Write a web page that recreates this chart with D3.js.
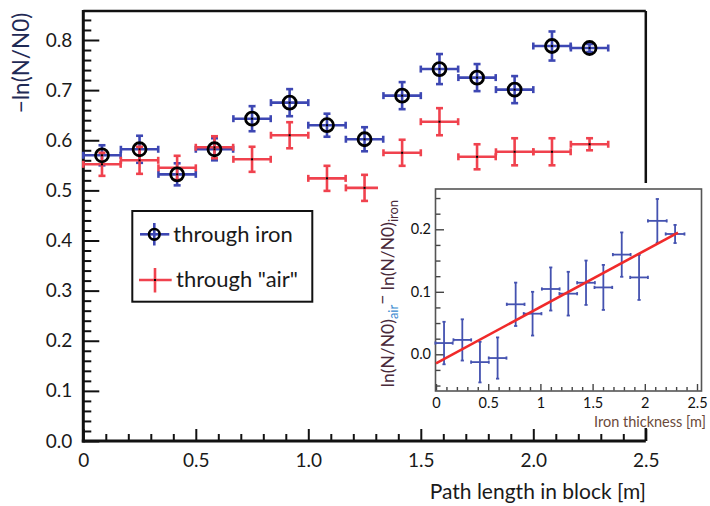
<!DOCTYPE html>
<html><head><meta charset="utf-8">
<script src="https://cdn.jsdelivr.net/npm/d3@7"></script>
<style>body{margin:0;background:#fff}svg{display:block}</style>
</head><body><svg id="c" width="710" height="506"></svg>
<script>
// ---------- data ----------
const pathLength   = [0.083,0.25,0.417,0.583,0.75,0.917,1.083,1.25,1.417,1.583,1.75,1.917,2.083,2.25];
const pathHalfBin  = [0.083,0.083,0.083,0.083,0.083,0.083,0.083,0.083,0.083,0.083,0.083,0.083,0.083,0.083];
const ironValues   = [0.570,0.582,0.532,0.582,0.643,0.675,0.630,0.602,0.689,0.742,0.725,0.701,0.788,0.784];
const ironErrors   = [0.020,0.027,0.022,0.022,0.025,0.027,0.023,0.024,0.027,0.030,0.027,0.027,0.029,0.008];
const airValues    = [0.552,0.560,0.545,0.586,0.562,0.610,0.524,0.505,0.575,0.637,0.567,0.577,0.577,0.592];
const airErrors    = [0.023,0.027,0.024,0.022,0.025,0.026,0.025,0.026,0.026,0.027,0.025,0.027,0.027,0.012];

const ironThickness    = [0.077,0.252,0.421,0.590,0.763,0.925,1.099,1.267,1.437,1.603,1.779,1.945,2.120,2.290];
const ironThicknessErr = [0.083,0.085,0.085,0.085,0.085,0.085,0.085,0.085,0.085,0.085,0.085,0.085,0.090,0.090];
const lnDiff           = [0.018,0.023,-0.0125,-0.006,0.080,0.065,0.1045,0.097,0.1145,0.107,0.1595,0.123,0.2135,0.1925];
const lnDiffErr        = [0.034,0.033,0.0325,0.033,0.0347,0.035,0.0345,0.035,0.0355,0.036,0.0355,0.036,0.035,0.0145];
const fitX = [0, 2.318];
const fitY = [-0.0144, 0.1946];

const xTickValues = [0,0.5,1,1.5,2,2.5];
const xTickLabels = ["0","0.5","1.0","1.5","2.0","2.5"];
const yTickValues = [0,0.1,0.2,0.3,0.4,0.5,0.6,0.7,0.8];
const yTickLabels = ["0.0","0.1","0.2","0.3","0.4","0.5","0.6","0.7","0.8"];
const insetXTickValues = [0,0.5,1,1.5,2,2.5];
const insetXTickLabels = ["0","0.5","1","1.5","2","2.5"];
const insetYTickValues = [0,0.1,0.2];
const insetYTickLabels = ["0.0","0.1","0.2"];
const legendLabels = ["through iron", "through \"air\""];

// ---------- setup ----------
const FONT = "Lato, 'Open Sans', sans-serif";
const BLUE = "#3d47b3", RED = "#f0424e", INSET_BLUE = "#4452b0";
const svg = d3.select("#c");
svg.append("rect").attr("width",710).attr("height",506).attr("fill","#fff");

const x = d3.scaleLinear([0,2.5],[83.3,645.8]);
const y = d3.scaleLinear([0,0.8],[441,40]);
const yTop = 11;

// frame (top & right)
svg.append("line").attr("x1",x(0)).attr("x2",x(2.5)).attr("y1",yTop).attr("y2",yTop)
  .attr("stroke","#111").attr("stroke-width",2.5);
svg.append("line").attr("x1",x(2.5)).attr("x2",x(2.5)).attr("y1",yTop).attr("y2",y(0))
  .attr("stroke","#111").attr("stroke-width",2.5);

// y axis
const yMinor = d3.range(0,0.8501,0.02).filter(v=>Math.abs(v*10-Math.round(v*10))>1e-6);
const gyMin = svg.append("g").attr("transform",`translate(${x(0)},0)`)
  .call(d3.axisLeft(y).tickValues(yMinor).tickSize(-8).tickFormat(""));
const gy = svg.append("g").attr("transform",`translate(${x(0)},0)`)
  .call(d3.axisLeft(y).tickValues(yTickValues).tickSize(-16).tickPadding(11)
        .tickFormat((d,i)=>yTickLabels[i]));
// x axis
const xMinor = d3.range(0,2.5001,0.1).filter(v=>Math.abs(v*2-Math.round(v*2))>1e-6);
const gxMin = svg.append("g").attr("transform",`translate(0,${y(0)})`)
  .call(d3.axisBottom(x).tickValues(xMinor).tickSize(-7).tickFormat(""));
const gx = svg.append("g").attr("transform",`translate(0,${y(0)})`)
  .call(d3.axisBottom(x).tickValues(xTickValues).tickSize(-12).tickPadding(13)
        .tickFormat((d,i)=>xTickLabels[i]));
[gyMin,gy,gxMin,gx].forEach(g=>{
  g.select(".domain").remove();
  g.selectAll("line").attr("stroke","#111").attr("stroke-width",2);
  g.selectAll("text").attr("font-family",FONT).attr("font-size",19).attr("fill","#1a1a1a");
});
svg.append("line").attr("x1",x(0)).attr("x2",x(0)).attr("y1",yTop-1).attr("y2",y(0)+1.5)
  .attr("stroke","#111").attr("stroke-width",3);
svg.append("line").attr("x1",x(0)-1.5).attr("x2",x(2.5)).attr("y1",y(0)).attr("y2",y(0))
  .attr("stroke","#111").attr("stroke-width",3);

// axis titles
svg.append("text").attr("transform","translate(29,63) rotate(-90)")
  .attr("text-anchor","middle").attr("font-family",FONT).attr("font-size",22.5)
  .attr("fill","#1f2a55").text("\u2212ln(N/N0)");
svg.append("text").attr("x",646).attr("y",499).attr("text-anchor","end")
  .attr("font-family",FONT).attr("font-size",21).attr("fill","#1a1a1a")
  .text("Path length in block [m]");

// error bars helper
function errBars(g, xs, ys, xe, ye, sx, sy, color, sw, cap){
  const data = xs.map((v,i)=>({x:v,y:ys[i],xe:xe[i],ye:ye[i]}));
  const grp = g.append("g").attr("stroke",color).attr("stroke-width",sw).attr("fill","none");
  data.forEach(d=>{
    const cx=sx(d.x), cy=sy(d.y), x0=sx(d.x-d.xe), x1=sx(d.x+d.xe), y0=sy(d.y-d.ye), y1=sy(d.y+d.ye);
    grp.append("line").attr("x1",x0).attr("x2",x1).attr("y1",cy).attr("y2",cy);
    grp.append("line").attr("x1",cx).attr("x2",cx).attr("y1",y0).attr("y2",y1);
    if(cap>0){
      grp.append("line").attr("x1",x0).attr("x2",x0).attr("y1",cy-cap).attr("y2",cy+cap);
      grp.append("line").attr("x1",x1).attr("x2",x1).attr("y1",cy-cap).attr("y2",cy+cap);
      grp.append("line").attr("x1",cx-cap).attr("x2",cx+cap).attr("y1",y0).attr("y2",y0);
      grp.append("line").attr("x1",cx-cap).attr("x2",cx+cap).attr("y1",y1).attr("y2",y1);
    }
  });
  return data;
}

const plot = svg.append("g");
const ironData = errBars(plot, pathLength, ironValues, pathHalfBin, ironErrors, x, y, BLUE, 2.6, 3.5);
const airData  = errBars(plot, pathLength, airValues, pathHalfBin, airErrors, x, y, RED, 2.6, 3.5);
plot.selectAll("rect.dot").data(ironData.concat(airData)).join("rect").attr("class","dot")
  .attr("x",d=>x(d.x)-1).attr("y",d=>y(d.y)-1).attr("width",2).attr("height",2).attr("fill","#000");
plot.selectAll("circle.iron").data(ironData).join("circle").attr("class","iron")
  .attr("cx",d=>x(d.x)).attr("cy",d=>y(d.y)).attr("r",6.5)
  .attr("fill","none").attr("stroke","#000").attr("stroke-width",2.8);

// legend
const lg = svg.append("g");
lg.append("rect").attr("x",132.3).attr("y",211).attr("width",180).attr("height",90.7)
  .attr("fill","#fff").attr("stroke","#111").attr("stroke-width",2);
lg.append("line").attr("x1",140).attr("x2",169.3).attr("y1",234.3).attr("y2",234.3).attr("stroke",BLUE).attr("stroke-width",2.6);
lg.append("line").attr("x1",154.3).attr("x2",154.3).attr("y1",223).attr("y2",245.5).attr("stroke",BLUE).attr("stroke-width",2.6);
lg.append("circle").attr("cx",154.3).attr("cy",234.3).attr("r",5.3).attr("fill","none").attr("stroke","#000").attr("stroke-width",2.6);
lg.append("line").attr("x1",139).attr("x2",171.7).attr("y1",280).attr("y2",280).attr("stroke",RED).attr("stroke-width",2.6);
lg.append("line").attr("x1",155).attr("x2",155).attr("y1",268).attr("y2",292.5).attr("stroke",RED).attr("stroke-width",2.6);
lg.append("rect").attr("x",154).attr("y",279).attr("width",2).attr("height",2).attr("fill","#000");
lg.append("text").attr("x",173.3).attr("y",241.7).attr("font-family",FONT).attr("font-size",22).attr("fill","#1a1a1a").text(legendLabels[0]);
lg.append("text").attr("x",176).attr("y",287.3).attr("font-family",FONT).attr("font-size",22).attr("fill","#1a1a1a").text(legendLabels[1]);

// ---------- inset ----------
const ins = svg.append("g");
ins.append("rect").attr("x",378).attr("y",183).attr("width",332).attr("height",245).attr("fill","#fff");
const xi = d3.scaleLinear([0,2.545],[436,701.7]);
const yi = d3.scaleLinear([0,0.1],[354.3,291.8]);
ins.append("rect").attr("x",435.5).attr("y",189).attr("width",266).attr("height",202)
  .attr("fill","#fff").attr("stroke","#555").attr("stroke-width",1.6);

const iyMinor = d3.range(-0.05,0.2601,0.025).filter(v=>Math.abs(v*10-Math.round(v*10))>1e-6);
const ixMinor = d3.range(0,2.5001,0.1).filter(v=>Math.abs(v*2-Math.round(v*2))>1e-6);
const gi1 = ins.append("g").attr("transform",`translate(${xi(0)},0)`)
  .call(d3.axisLeft(yi).tickValues(iyMinor).tickSize(-4.5).tickFormat(""));
const gi2 = ins.append("g").attr("transform",`translate(${xi(0)},0)`)
  .call(d3.axisLeft(yi).tickValues(insetYTickValues).tickSize(-8).tickPadding(5)
        .tickFormat((d,i)=>insetYTickLabels[i]));
const gi3 = ins.append("g").attr("transform",`translate(0,390.5)`)
  .call(d3.axisBottom(xi).tickValues(ixMinor).tickSize(-3.5).tickFormat(""));
const gi4 = ins.append("g").attr("transform",`translate(0,390.5)`)
  .call(d3.axisBottom(xi).tickValues(insetXTickValues).tickSize(-6.5).tickPadding(7)
        .tickFormat((d,i)=>insetXTickLabels[i]));
[gi1,gi2,gi3,gi4].forEach(g=>{
  g.select(".domain").remove();
  g.selectAll("line").attr("stroke","#444").attr("stroke-width",1.4);
  g.selectAll("text").attr("font-family",FONT).attr("font-size",14.5).attr("fill","#111");
});

errBars(ins, ironThickness, lnDiff, ironThicknessErr, lnDiffErr, xi, yi, INSET_BLUE, 1.8, 1.6);
ins.append("line").attr("x1",xi(fitX[0])).attr("y1",yi(fitY[0])).attr("x2",xi(fitX[1])).attr("y2",yi(fitY[1]))
  .attr("stroke","#f02a2a").attr("stroke-width",2.6);

ins.append("text").attr("x",706).attr("y",427).attr("text-anchor","end")
  .attr("font-family",FONT).attr("font-size",14.5).attr("fill","#6b4a3a").text("Iron thickness [m]");

const yt = ins.append("text").attr("transform","translate(394,293.5) rotate(-90)")
  .attr("text-anchor","middle").attr("font-family",FONT).attr("font-size",17.5).attr("fill","#4a2a3a");
yt.append("tspan").text("ln(N/N0)");
yt.append("tspan").attr("dy",4).attr("font-size",13).attr("fill","#3a8ad0").text("air");
yt.append("tspan").attr("dy",-10).text("\u2212");
yt.append("tspan").attr("dy",6).text(" ln(N/N0)");
yt.append("tspan").attr("dy",4).attr("font-size",13).text("iron");
</script></body></html>
